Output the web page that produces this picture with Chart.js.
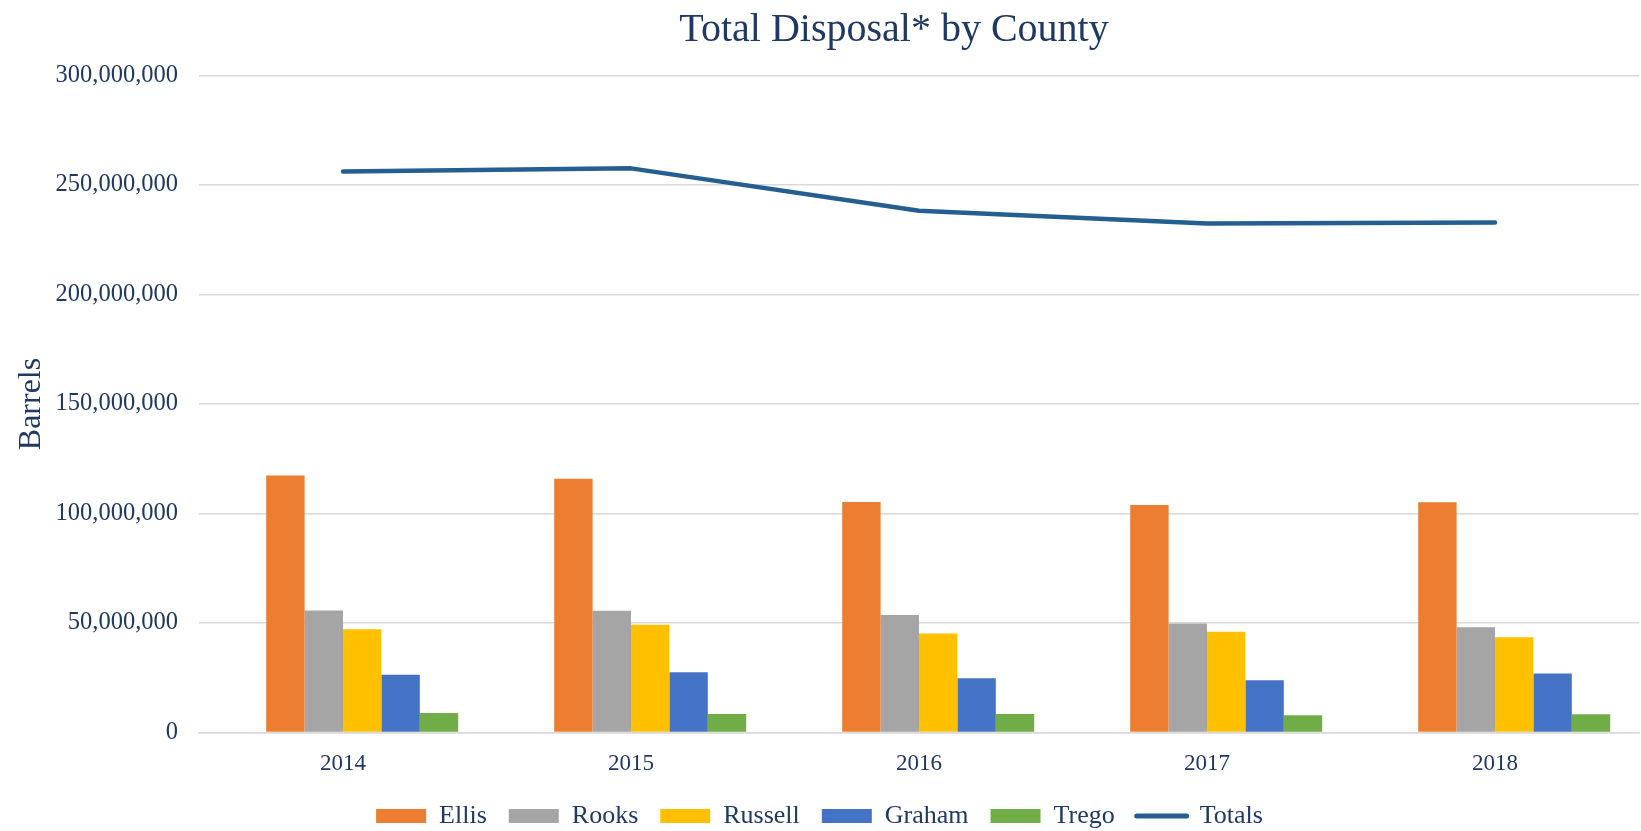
<!DOCTYPE html>
<html>
<head>
<meta charset="utf-8">
<script src="https://cdn.jsdelivr.net/npm/chart.js@4.4.0/dist/chart.umd.min.js"></script>
<style>
html,body{margin:0;padding:0;background:#ffffff;}
#wrap{width:1641px;height:831px;}
</style>
</head>
<body>
<div id="wrap"><canvas id="c" width="1641" height="831"></canvas></div>
<script>
const chartTitle = 'Total Disposal* by County';
const categories = ['2014', '2015', '2016', '2017', '2018'];
const ellis   = [117400000, 115900000, 105300000, 103900000, 105100000];
const rooks   = [55700000, 55600000, 53600000, 49800000, 48100000];
const russell = [47200000, 49200000, 45200000, 46000000, 43500000];
const graham  = [26400000, 27500000, 24800000, 23900000, 26900000];
const trego   = [8900000, 8500000, 8500000, 7900000, 8300000];
const totals  = [256200000, 257600000, 238200000, 232400000, 232900000];
const spacer  = [null, null, null, null, null];
const yMin = 0, yMax = 300000000, yStep = 50000000;

const NAVY = '#1F3864';
const GRID = '#D9D9D9';
const FONT = '"Liberation Serif", "Times New Roman", serif';
Chart.defaults.font.family = FONT;
Chart.defaults.color = NAVY;

const titlePlugin = {
  id: 'customTitle',
  afterDraw(chart) {
    const c = chart.ctx;
    const a = chart.chartArea;
    c.save();
    c.font = '40px ' + FONT;
    c.fillStyle = NAVY;
    c.textAlign = 'center';
    c.textBaseline = 'middle';
    c.fillText(chartTitle, (a.left + a.right) / 2 - 25, 30);
    c.restore();
  }
};

const ctx = document.getElementById('c').getContext('2d');
new Chart(ctx, {
  data: {
    labels: categories,
    datasets: [
      { type: 'bar', label: '', data: spacer, backgroundColor: 'rgba(0,0,0,0)' },
      { type: 'bar', label: 'Ellis', data: ellis, backgroundColor: '#ED7D31' },
      { type: 'bar', label: 'Rooks', data: rooks, backgroundColor: '#A5A5A5' },
      { type: 'bar', label: 'Russell', data: russell, backgroundColor: '#FFC000' },
      { type: 'bar', label: 'Graham', data: graham, backgroundColor: '#4472C4' },
      { type: 'bar', label: 'Trego', data: trego, backgroundColor: '#70AD47' },
      { type: 'line', label: 'Totals', data: totals, borderColor: '#255E91', backgroundColor: '#255E91',
        borderWidth: 4.5, pointRadius: 0, pointHoverRadius: 0, tension: 0,
        borderCapStyle: 'round', borderJoinStyle: 'round', fill: false }
    ]
  },
  plugins: [titlePlugin],
  options: {
    responsive: false,
    animation: false,
    devicePixelRatio: 1,
    datasets: { bar: { categoryPercentage: 0.8, barPercentage: 1.0 } },
    layout: { padding: { left: 0, right: 2, top: 75.5, bottom: -8 } },
    plugins: {
      tooltip: { enabled: false },
      title: { display: false },
      legend: {
        position: 'bottom',
        labels: {
          color: NAVY,
          font: { size: 26 },
          usePointStyle: true,
          pointStyleWidth: 50,
          boxWidth: 50,
          boxHeight: 14,
          padding: 22,
          generateLabels(chart) {
            const items = Chart.defaults.plugins.legend.labels.generateLabels(chart);
            return items.filter(i => i.text !== '').map(i => {
              const ds = chart.data.datasets[i.datasetIndex];
              if (ds.type === 'line') {
                i.pointStyle = 'line';
                i.lineWidth = 5;
                i.strokeStyle = ds.borderColor;
                i.lineCap = 'round';
              } else {
                i.pointStyle = 'rect';
                i.lineWidth = 0;
              }
              return i;
            });
          }
        }
      }
    },
    scales: {
      x: {
        offset: true,
        grid: { display: false, drawTicks: false },
        border: { display: true, color: GRID, width: 1.5 },
        ticks: { color: NAVY, font: { size: 23 }, padding: 18 },
        afterFit(scale) { scale.height = 48.5; }
      },
      y: {
        min: yMin,
        max: yMax,
        grid: { color: GRID, lineWidth: 1.5, drawTicks: false },
        border: { display: false },
        ticks: {
          stepSize: yStep,
          color: NAVY,
          font: { size: 24.5 },
          padding: 21,
          callback: v => Number(v).toLocaleString('en-US')
        },
        title: { display: true, text: 'Barrels', color: NAVY, font: { size: 32 }, padding: { top: 12, bottom: 0 } },
        afterFit(scale) { scale.width = 199; }
      }
    }
  }
});
</script>
</body>
</html>
